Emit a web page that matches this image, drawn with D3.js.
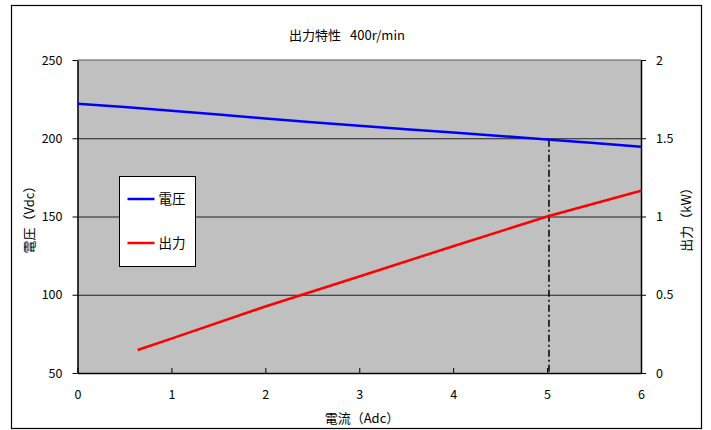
<!DOCTYPE html>
<html>
<head>
<meta charset="utf-8">
<script src="https://cdn.jsdelivr.net/npm/d3@7"></script>
<style>
  body { margin: 0; background: #fff; }
  svg text { font-family: "Noto Sans CJK JP", "DejaVu Sans", sans-serif; fill: #000; }
</style>
</head>
<body>
<svg id="canvas" width="711" height="430"></svg>
<script>
// chart values
var currentA = [0, 0.5, 1, 1.5, 2, 2.5, 3, 3.5, 4, 4.5, 5, 5.5, 6];
var voltageV = [222, 220, 217.6, 215.2, 212.6, 210.3, 208, 205.8, 203.7, 201.5, 199.2, 197, 194.6];

var powerCurrentA = [0.64, 1, 2, 3, 4, 5, 6];
var powerKW = [0.147, 0.22, 0.425, 0.617, 0.81, 1.0, 1.165];

var xTicks = [0, 1, 2, 3, 4, 5, 6];
var yLeftTicks = [50, 100, 150, 200, 250];
var yRightTicks = [0, 0.5, 1, 1.5, 2];
var markerCurrent = 5.02; // dash-dot line

var titleMain = '出力特性';
var titleSpeed = '400r/min';
var xTitle = '電流（Adc）';
var yLeftTitle = '電圧（Vdc）';
var yRightTitle = '出力（kW）';
var legendNames = ['電圧', '出力'];
var legendColors = ['#0000ff', '#ff0000'];

var svg = d3.select('#canvas');

// outer frame
svg.append('rect')
	.attr('x', 11.5).attr('y', 5.5)
	.attr('width', 690).attr('height', 423)
	.attr('fill', '#fff').attr('stroke', '#000').attr('stroke-width', 1.2);

var margin = { left: 77.5, top: 60, right: 70, bottom: 57 };
var innerWidth = 711 - margin.left - margin.right;
var innerHeight = 430 - margin.top - margin.bottom;

var x = d3.scaleLinear().domain([0, 6]).range([0, innerWidth]);
var yL = d3.scaleLinear().domain([50, 250]).range([innerHeight, 0]);
var yR = d3.scaleLinear().domain([0, 2]).range([innerHeight, 0]);

var g = svg.append('g')
	.attr('transform', 'translate(' + margin.left + ',' + margin.top + ')');

// plot area
g.append('rect')
	.attr('width', innerWidth).attr('height', innerHeight)
	.attr('fill', '#c0c0c0');

// horizontal grid
g.append('g')
	.call(d3.axisLeft(yL).tickValues([100, 150, 200]).tickSize(-innerWidth).tickFormat(''))
	.call(s => s.select('.domain').remove())
	.selectAll('line').attr('stroke', '#222').attr('stroke-width', 1);

// left axis
g.append('g')
	.call(d3.axisLeft(yL).tickValues(yLeftTicks).tickSize(5).tickPadding(10).tickSizeOuter(0).tickFormat(d3.format('d')))
	.call(s => s.select('.domain').attr('stroke', '#000').attr('stroke-width', 1.5))
	.call(s => s.selectAll('text').style('font-size', '12.5px'));

// right axis
g.append('g')
	.attr('transform', 'translate(' + innerWidth + ',0)')
	.call(d3.axisRight(yR).tickValues(yRightTicks).tickSize(5).tickPadding(10).tickSizeOuter(0).tickFormat(d3.format('')))
	.call(s => s.select('.domain').attr('stroke', '#000').attr('stroke-width', 1.5))
	.call(s => s.selectAll('text').style('font-size', '12.5px'));

// bottom axis, ticks pointing inward
g.append('g')
	.attr('transform', 'translate(0,' + innerHeight + ')')
	.call(d3.axisBottom(x).tickValues(xTicks).tickSize(-5).tickPadding(17).tickSizeOuter(0).tickFormat(d3.format('d')))
	.call(s => s.select('.domain').attr('stroke', '#000').attr('stroke-width', 1.5))
	.call(s => s.selectAll('text').style('font-size', '12.5px'));

// top edge of plot area
g.append('line')
	.attr('x1', 0).attr('x2', innerWidth).attr('y1', 0).attr('y2', 0)
	.attr('stroke', '#555').attr('stroke-width', 1);

// dash-dot marker line at rated current
var vAtMarker = d3.scaleLinear().domain(currentA).range(voltageV)(markerCurrent);
g.append('line')
	.attr('x1', x(markerCurrent)).attr('x2', x(markerCurrent))
	.attr('y1', yL(vAtMarker)).attr('y2', innerHeight)
	.attr('stroke', '#000').attr('stroke-width', 1.5)
	.attr('stroke-dasharray', '7,3,2,3');

// voltage line
var vLine = d3.line()
	.x((d, i) => x(currentA[i]))
	.y(d => yL(d));
g.append('path')
	.attr('d', vLine(voltageV))
	.attr('fill', 'none').attr('stroke', legendColors[0]).attr('stroke-width', 2.5);

// power line
var pLine = d3.line()
	.x((d, i) => x(powerCurrentA[i]))
	.y(d => yR(d));
g.append('path')
	.attr('d', pLine(powerKW))
	.attr('fill', 'none').attr('stroke', legendColors[1]).attr('stroke-width', 2.5);

// legend
var legend = svg.append('g').attr('transform', 'translate(119.5,176.5)');
legend.append('rect')
	.attr('width', 76).attr('height', 90)
	.attr('fill', '#fff').attr('stroke', '#000').attr('stroke-width', 1);
legendNames.forEach(function (name, i) {
	var ly = 22.5 + i * 44;
	legend.append('line')
		.attr('x1', 8).attr('x2', 35).attr('y1', ly).attr('y2', ly)
		.attr('stroke', legendColors[i]).attr('stroke-width', 2.5);
	legend.append('text')
		.attr('x', 39).attr('y', ly).attr('dy', '0.36em')
		.style('font-size', '13.5px')
		.text(name);
});

// titles
var titleText = svg.append('text')
	.attr('x', 347).attr('y', 35).attr('dy', '0.36em')
	.attr('text-anchor', 'middle').style('font-size', '13px');
titleText.append('tspan').text(titleMain);
titleText.append('tspan').attr('dx', 9).text(titleSpeed);

svg.append('text')
	.attr('x', 362).attr('y', 418).attr('dy', '0.36em')
	.attr('text-anchor', 'middle').style('font-size', '13px')
	.text(xTitle);
svg.append('text')
	.attr('transform', 'translate(29,' + (margin.top + innerHeight / 2) + ') rotate(-90)')
	.attr('dy', '0.36em')
	.attr('text-anchor', 'middle').style('font-size', '13px')
	.text(yLeftTitle);
svg.append('text')
	.attr('transform', 'translate(686,' + (margin.top + innerHeight / 2) + ') rotate(-90)')
	.attr('dy', '0.36em')
	.attr('text-anchor', 'middle').style('font-size', '13px')
	.text(yRightTitle);
</script>
</body>
</html>
